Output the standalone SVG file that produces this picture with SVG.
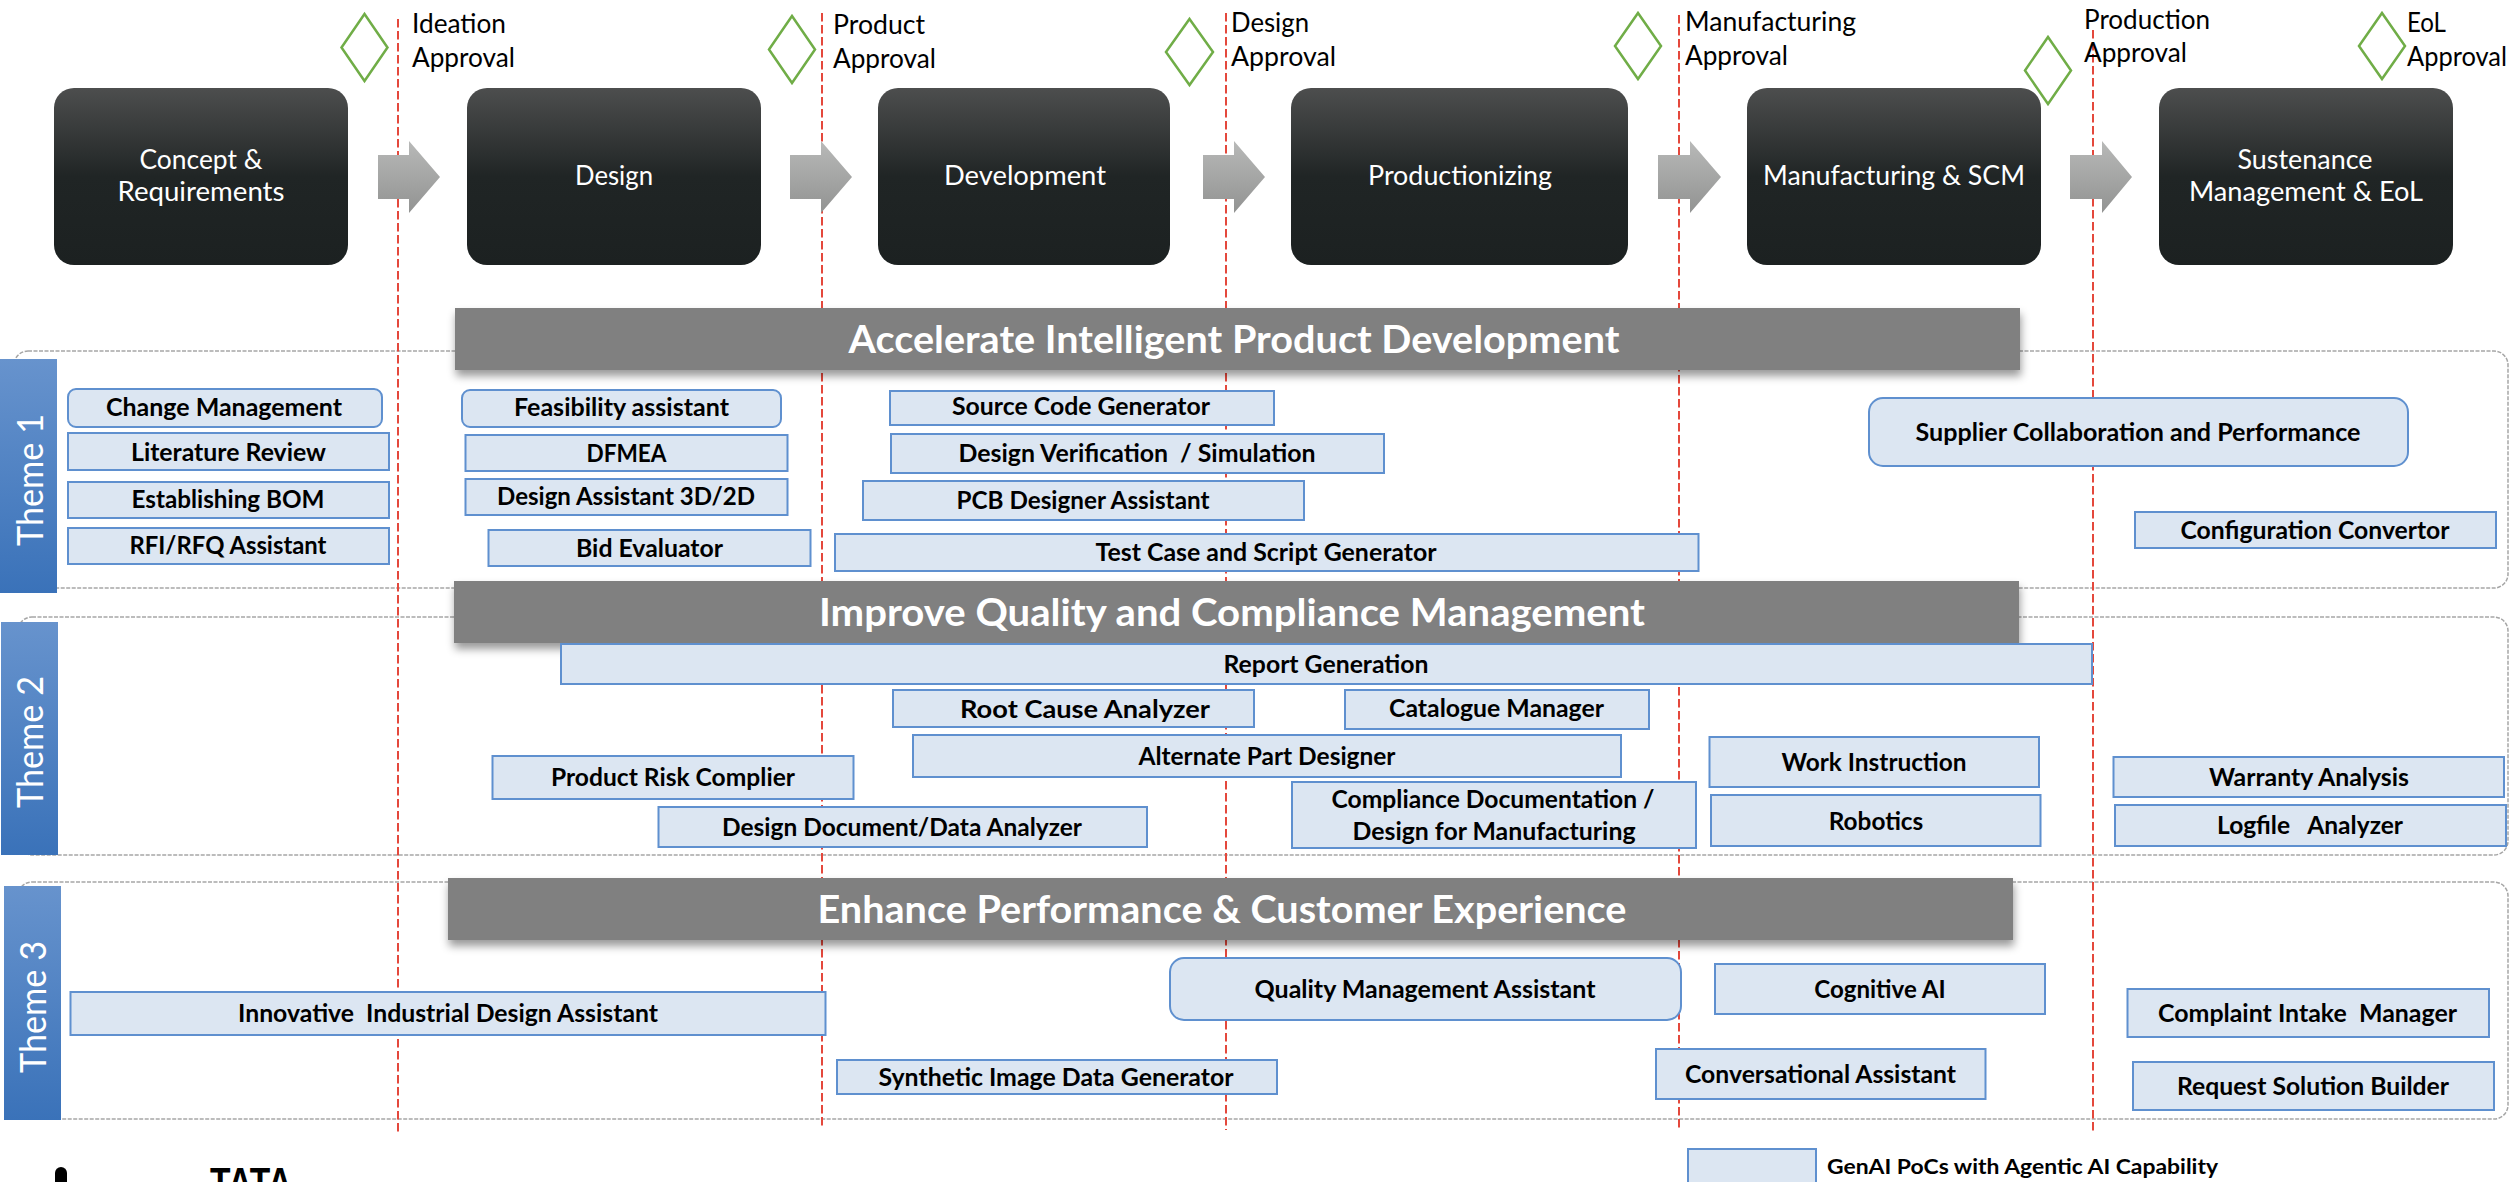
<svg xmlns="http://www.w3.org/2000/svg" width="2509" height="1182" viewBox="0 0 2509 1182">
<defs>
<linearGradient id="stageFill" x1="0" y1="0" x2="0" y2="1"><stop offset="0" stop-color="#4d4e4e"/><stop offset="0.5" stop-color="#202525"/><stop offset="1" stop-color="#1c2121"/></linearGradient>
<linearGradient id="arrowFill" x1="0" y1="0" x2="0" y2="1"><stop offset="0" stop-color="#b8b9b8"/><stop offset="1" stop-color="#929392"/></linearGradient>
<linearGradient id="themeFill" x1="0" y1="0" x2="0" y2="1"><stop offset="0" stop-color="#6793cd"/><stop offset="1" stop-color="#3a72b9"/></linearGradient>
<filter id="barShadow" x="-2%" y="-10%" width="104%" height="135%"><feDropShadow dx="1" dy="6" stdDeviation="4" flood-color="#000" flood-opacity="0.4"/></filter>
<style>
text{font-family:Lato,"Noto Sans",sans-serif}
.stage{fill:url(#stageFill)}
.stage-t{fill:#fff;font-size:27px;text-anchor:middle}
.arr{fill:url(#arrowFill)}
.dia{fill:#fff;fill-opacity:0;stroke:#70ad47;stroke-width:2.5}
.ms{fill:#000;font-size:26px}
.gate{stroke:#e4483c;stroke-width:2;stroke-dasharray:8.5 3.5;fill:none}
.band{fill:none;stroke:#a6a6a6;stroke-width:1.5;stroke-dasharray:4 1.5}
.bar{fill:#808080;filter:url(#barShadow)}
.bar-t{fill:#fff;font-size:38px;font-weight:700;text-anchor:middle}
.theme{fill:url(#themeFill)}
.theme-t{fill:#fff;font-size:37px;text-anchor:middle}
.b{fill:#dce6f2;stroke:#5f90cf;stroke-width:2}
.t{fill:#000;font-size:24px;font-weight:700;text-anchor:middle}
</style>
</defs>
<rect width="2509" height="1182" fill="#fff"/>

<g id="connectors">
<rect class="band" x="14" y="351" width="2494" height="237" rx="14"/>
<rect class="band" x="18" y="617" width="2490" height="238" rx="14"/>
<rect class="band" x="18" y="882" width="2490" height="237" rx="14"/>
<line class="gate" x1="398" y1="19" x2="398" y2="1133"/>
<line class="gate" x1="822" y1="13" x2="822" y2="1128"/>
<line class="gate" x1="1226" y1="13" x2="1226" y2="1130"/>
<line class="gate" x1="1679" y1="15" x2="1679" y2="1131"/>
<line class="gate" x1="2093" y1="30" x2="2093" y2="1133"/>
<path class="arr" d="M378 155H409V141L440 177L409 213V199H378Z"/>
<path class="arr" d="M790 155H821V141L852 177L821 213V199H790Z"/>
<path class="arr" d="M1203 155H1234V141L1265 177L1234 213V199H1203Z"/>
<path class="arr" d="M1658 155H1690V141L1721 177L1690 213V199H1658Z"/>
<path class="arr" d="M2070 155H2102V141L2132 177L2102 213V199H2070Z"/>
</g>

<g id="stage-concept"><rect class="stage" x="54" y="88" width="294" height="177" rx="20"/><text class="stage-t" x="201" y="169" textLength="123" lengthAdjust="spacingAndGlyphs">Concept &amp;</text><text class="stage-t" x="201" y="201" textLength="167" lengthAdjust="spacingAndGlyphs">Requirements</text></g>
<g id="stage-design"><rect class="stage" x="467" y="88" width="294" height="177" rx="20"/><text class="stage-t" x="614" y="185" textLength="78" lengthAdjust="spacingAndGlyphs">Design</text></g>
<g id="stage-development"><rect class="stage" x="878" y="88" width="292" height="177" rx="20"/><text class="stage-t" x="1025" y="185" textLength="162" lengthAdjust="spacingAndGlyphs">Development</text></g>
<g id="stage-productionizing"><rect class="stage" x="1291" y="88" width="337" height="177" rx="20"/><text class="stage-t" x="1460" y="185" textLength="184" lengthAdjust="spacingAndGlyphs">Productionizing</text></g>
<g id="stage-manufacturing"><rect class="stage" x="1747" y="88" width="294" height="177" rx="20"/><text class="stage-t" x="1894" y="185" textLength="262" lengthAdjust="spacingAndGlyphs">Manufacturing &amp; SCM</text></g>
<g id="stage-sustenance"><rect class="stage" x="2159" y="88" width="294" height="177" rx="20"/><text class="stage-t" x="2305" y="169" textLength="135" lengthAdjust="spacingAndGlyphs">Sustenance</text><text class="stage-t" x="2306" y="201" textLength="234" lengthAdjust="spacingAndGlyphs">Management &amp; EoL</text></g>

<g id="ms-ideation"><polygon class="dia" points="364.5,14 387.5,47.5 364.5,81 341.5,47.5"/><text class="ms" x="412" y="33" textLength="94" lengthAdjust="spacingAndGlyphs">Ideation</text><text class="ms" x="412" y="67" textLength="103" lengthAdjust="spacingAndGlyphs">Approval</text></g>
<g id="ms-product"><polygon class="dia" points="792,16 815,49.5 792,83 769,49.5"/><text class="ms" x="833" y="34" textLength="92" lengthAdjust="spacingAndGlyphs">Product</text><text class="ms" x="833" y="68" textLength="103" lengthAdjust="spacingAndGlyphs">Approval</text></g>
<g id="ms-design"><polygon class="dia" points="1189.5,19 1213,52 1189.5,85 1166,52"/><text class="ms" x="1231" y="32" textLength="78" lengthAdjust="spacingAndGlyphs">Design</text><text class="ms" x="1231" y="66" textLength="105" lengthAdjust="spacingAndGlyphs">Approval</text></g>
<g id="ms-manufacturing"><polygon class="dia" points="1638,13 1661,46 1638,79 1615,46"/><text class="ms" x="1685" y="31" textLength="171" lengthAdjust="spacingAndGlyphs">Manufacturing</text><text class="ms" x="1685" y="65" textLength="103" lengthAdjust="spacingAndGlyphs">Approval</text></g>
<g id="ms-production"><polygon class="dia" points="2048,37 2071,70.5 2048,104 2025,70.5"/><text class="ms" x="2084" y="29" textLength="126" lengthAdjust="spacingAndGlyphs">Production</text><text class="ms" x="2084" y="62" textLength="103" lengthAdjust="spacingAndGlyphs">Approval</text></g>
<g id="ms-eol"><polygon class="dia" points="2382,13 2405,46 2382,79 2359,46"/><text class="ms" x="2407" y="32" textLength="39" lengthAdjust="spacingAndGlyphs">EoL</text><text class="ms" x="2407" y="66" textLength="100" lengthAdjust="spacingAndGlyphs">Approval</text></g>

<g id="bar-1"><rect class="bar" x="455" y="308" width="1565" height="62"/><text class="bar-t" x="1234" y="353" textLength="771" lengthAdjust="spacingAndGlyphs">Accelerate Intelligent Product Development</text></g>
<g id="bar-2"><rect class="bar" x="454" y="581" width="1565" height="62"/><text class="bar-t" x="1232" y="626" textLength="826" lengthAdjust="spacingAndGlyphs">Improve Quality and Compliance Management</text></g>
<g id="bar-3"><rect class="bar" x="448" y="878" width="1565" height="62"/><text class="bar-t" x="1222" y="923" textLength="809" lengthAdjust="spacingAndGlyphs">Enhance Performance &amp; Customer Experience</text></g>

<g id="theme-1"><rect class="theme" x="0" y="359" width="57" height="234"/><text class="theme-t" transform="translate(43 480) rotate(-90)" textLength="132" lengthAdjust="spacingAndGlyphs">Theme 1</text></g>
<g id="theme-2"><rect class="theme" x="1" y="622" width="57" height="233"/><text class="theme-t" transform="translate(43 742) rotate(-90)" textLength="132" lengthAdjust="spacingAndGlyphs">Theme 2</text></g>
<g id="theme-3"><rect class="theme" x="4" y="886" width="57" height="234"/><text class="theme-t" transform="translate(46 1007) rotate(-90)" textLength="132" lengthAdjust="spacingAndGlyphs">Theme 3</text></g>

<g id="change-management"><rect class="b" x="68" y="389" width="314" height="38" rx="8"/><text class="t" x="224" y="416" textLength="236" lengthAdjust="spacingAndGlyphs">Change Management</text></g>
<g id="literature-review"><rect class="b" x="68" y="433" width="321" height="37"/><text class="t" x="228.5" y="461" textLength="195" lengthAdjust="spacingAndGlyphs">Literature Review</text></g>
<g id="establishing-bom"><rect class="b" x="68" y="482" width="321" height="36"/><text class="t" x="228" y="508" textLength="193" lengthAdjust="spacingAndGlyphs">Establishing BOM</text></g>
<g id="rfi-rfq"><rect class="b" x="68" y="528" width="321" height="36"/><text class="t" x="228" y="554" textLength="197" lengthAdjust="spacingAndGlyphs">RFI/RFQ Assistant</text></g>
<g id="feasibility"><rect class="b" x="462" y="390" width="319" height="37" rx="8"/><text class="t" x="621.5" y="416" textLength="215" lengthAdjust="spacingAndGlyphs">Feasibility assistant</text></g>
<g id="dfmea"><rect class="b" x="465.5" y="435" width="322" height="36"/><text class="t" x="626.5" y="462" textLength="80" lengthAdjust="spacingAndGlyphs">DFMEA</text></g>
<g id="design-assistant"><rect class="b" x="465.5" y="479" width="322" height="36"/><text class="t" x="626" y="505" textLength="258" lengthAdjust="spacingAndGlyphs">Design Assistant 3D/2D</text></g>
<g id="bid-evaluator"><rect class="b" x="488.5" y="530" width="322" height="36"/><text class="t" x="649.5" y="557" textLength="147" lengthAdjust="spacingAndGlyphs">Bid Evaluator</text></g>
<g id="source-code"><rect class="b" x="890" y="391" width="384" height="34"/><text class="t" x="1081" y="415" textLength="258" lengthAdjust="spacingAndGlyphs">Source Code Generator</text></g>
<g id="design-verification"><rect class="b" x="891" y="434" width="493" height="39"/><text class="t" x="1137" y="462" textLength="357" lengthAdjust="spacingAndGlyphs" xml:space="preserve">Design Verification  / Simulation</text></g>
<g id="pcb-designer"><rect class="b" x="863" y="481" width="441" height="39"/><text class="t" x="1083" y="509" textLength="253" lengthAdjust="spacingAndGlyphs">PCB Designer Assistant</text></g>
<g id="test-case"><rect class="b" x="835" y="534" width="863.5" height="37"/><text class="t" x="1266" y="561" textLength="341" lengthAdjust="spacingAndGlyphs">Test Case and Script Generator</text></g>
<g id="supplier"><rect class="b" x="1869" y="398" width="539" height="68" rx="14"/><text class="t" x="2138" y="441" textLength="445" lengthAdjust="spacingAndGlyphs">Supplier Collaboration and Performance</text></g>
<g id="configuration"><rect class="b" x="2135" y="512" width="361" height="36"/><text class="t" x="2315" y="539" textLength="269" lengthAdjust="spacingAndGlyphs">Configuration Convertor</text></g>
<g id="report-generation"><rect class="b" x="561" y="644" width="1531" height="40"/><text class="t" x="1326" y="673" textLength="205" lengthAdjust="spacingAndGlyphs">Report Generation</text></g>
<g id="root-cause"><rect class="b" x="893" y="690" width="361" height="37"/><text class="t" x="1085" y="718" textLength="250" lengthAdjust="spacingAndGlyphs">Root Cause Analyzer</text></g>
<g id="catalogue"><rect class="b" x="1345" y="690" width="304" height="39"/><text class="t" x="1496.5" y="717" textLength="215" lengthAdjust="spacingAndGlyphs">Catalogue Manager</text></g>
<g id="alternate-part"><rect class="b" x="913" y="735" width="708" height="42"/><text class="t" x="1267" y="765" textLength="257" lengthAdjust="spacingAndGlyphs">Alternate Part Designer</text></g>
<g id="product-risk"><rect class="b" x="492.5" y="756" width="361" height="43"/><text class="t" x="673" y="786" textLength="244" lengthAdjust="spacingAndGlyphs">Product Risk Complier</text></g>
<g id="design-document"><rect class="b" x="658.5" y="807" width="488.5" height="40"/><text class="t" x="902" y="836" textLength="360" lengthAdjust="spacingAndGlyphs">Design Document/Data Analyzer</text></g>
<g id="compliance"><rect class="b" x="1292" y="782" width="404" height="66"/><text class="t" x="1493" y="808" textLength="323" lengthAdjust="spacingAndGlyphs">Compliance Documentation /</text><text class="t" x="1494" y="840" textLength="283" lengthAdjust="spacingAndGlyphs">Design for Manufacturing</text></g>
<g id="work-instruction"><rect class="b" x="1709.5" y="737" width="329.5" height="50"/><text class="t" x="1874" y="771" textLength="185" lengthAdjust="spacingAndGlyphs">Work Instruction</text></g>
<g id="robotics"><rect class="b" x="1711" y="795" width="329.5" height="51"/><text class="t" x="1876" y="830" textLength="94.5" lengthAdjust="spacingAndGlyphs">Robotics</text></g>
<g id="warranty"><rect class="b" x="2113.5" y="757" width="390.5" height="40"/><text class="t" x="2309" y="786" textLength="200" lengthAdjust="spacingAndGlyphs">Warranty Analysis</text></g>
<g id="logfile"><rect class="b" x="2115" y="805" width="391" height="41"/><text class="t" x="2310" y="834" textLength="186" lengthAdjust="spacingAndGlyphs" xml:space="preserve">Logfile   Analyzer</text></g>
<g id="innovative"><rect class="b" x="70.5" y="992" width="755" height="43"/><text class="t" x="448" y="1022" textLength="420" lengthAdjust="spacingAndGlyphs" xml:space="preserve">Innovative  Industrial Design Assistant</text></g>
<g id="quality-management"><rect class="b" x="1170" y="958" width="511" height="62" rx="14"/><text class="t" x="1425" y="998" textLength="341" lengthAdjust="spacingAndGlyphs">Quality Management Assistant</text></g>
<g id="cognitive"><rect class="b" x="1715" y="964" width="330" height="50"/><text class="t" x="1880" y="998" textLength="131.5" lengthAdjust="spacingAndGlyphs">Cognitive AI</text></g>
<g id="complaint"><rect class="b" x="2127.5" y="989" width="361.5" height="48"/><text class="t" x="2307.5" y="1022" textLength="299" lengthAdjust="spacingAndGlyphs" xml:space="preserve">Complaint Intake  Manager</text></g>
<g id="synthetic"><rect class="b" x="837" y="1060" width="440" height="34"/><text class="t" x="1056" y="1086" textLength="355" lengthAdjust="spacingAndGlyphs">Synthetic Image Data Generator</text></g>
<g id="conversational"><rect class="b" x="1656" y="1049" width="329.5" height="50"/><text class="t" x="1820.5" y="1083" textLength="271" lengthAdjust="spacingAndGlyphs">Conversational Assistant</text></g>
<g id="request"><rect class="b" x="2133" y="1062" width="361" height="48"/><text class="t" x="2313" y="1095" textLength="272" lengthAdjust="spacingAndGlyphs">Request Solution Builder</text></g>

<g id="legend"><rect class="b" x="1688" y="1149" width="128" height="50"/><text class="t" style="text-anchor:start;font-size:21px" x="1827" y="1174" textLength="391" lengthAdjust="spacingAndGlyphs">GenAI PoCs with Agentic AI Capability</text></g>

<g id="logo"><rect x="55" y="1167" width="12" height="30" rx="6" fill="#000"/><text x="210" y="1196" font-size="40" font-weight="700" fill="#000" style="font-family:'Liberation Sans',sans-serif" textLength="82" lengthAdjust="spacingAndGlyphs">TATA</text></g>
</svg>
